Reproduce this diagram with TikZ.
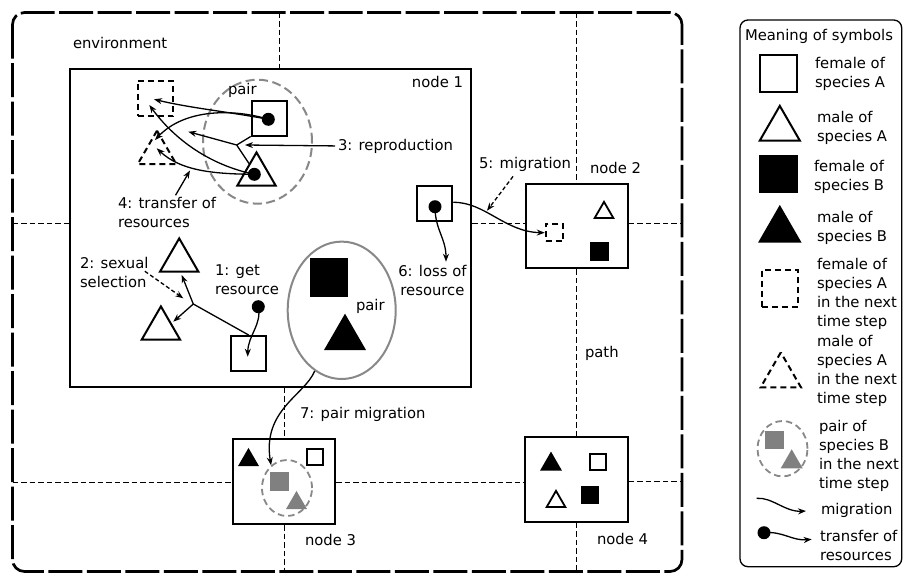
\documentclass[tikz,border=0pt]{standalone}
\usepackage{fontspec}
\setmainfont{DejaVu Sans}
\usetikzlibrary{shapes.geometric,arrows.meta,calc}
\definecolor{pgrey}{RGB}{128,128,128}
\definecolor{egrey}{RGB}{136,136,136}
\begin{document}
\begin{tikzpicture}[x=1pt,y=-1pt,
  txt/.style={font=\fontsize{14.8}{19}\selectfont, inner sep=0pt, outer sep=0pt, align=left},
  txtc/.style={txt, align=center},
  frame/.style={line width=2.7pt, dash pattern=on 34pt off 4.5pt, rounded corners=12pt},
  grid/.style={line width=1.2pt, dash pattern=on 5.5pt off 3pt},
  nodebox/.style={rectangle, draw, line width=2.2pt, fill=white, inner sep=0pt},
  sq/.style={rectangle, draw, line width=2pt, fill=white, inner sep=0pt, minimum size=#1},
  fsq/.style={rectangle, fill=black, inner sep=0pt, minimum size=#1},
  dsq/.style={rectangle, draw, line width=2pt, dash pattern=on 6pt off 4pt, inner sep=0pt, minimum size=#1},
  gsq/.style={rectangle, fill=pgrey, inner sep=0pt, minimum size=#1},
  tri/.style={regular polygon, regular polygon sides=3, draw, line width=2pt, fill=white, inner sep=0pt, minimum size=#1},
  ftri/.style={regular polygon, regular polygon sides=3, fill=black, inner sep=0pt, minimum size=#1},
  dtri/.style={regular polygon, regular polygon sides=3, draw, line width=2pt, dash pattern=on 6pt off 4pt, inner sep=0pt, minimum size=#1},
  gtri/.style={regular polygon, regular polygon sides=3, fill=pgrey, inner sep=0pt, minimum size=#1},
  dotn/.style={circle, fill=black, inner sep=0pt, minimum size=13pt},
  gell/.style={ellipse, draw=egrey, line width=2pt, dash pattern=on 9pt off 4.5pt, inner sep=0pt},
  sgell/.style={ellipse, draw=egrey, line width=1.8pt, dash pattern=on 6.5pt off 4pt, inner sep=0pt},
  conn/.style={line width=1.3pt},
  arrow/.style={conn, -{Stealth[length=8pt,width=6pt]}},
  darrow/.style={arrow, dash pattern=on 4pt off 2.5pt}
]
\useasboundingbox (0,0) rectangle (904,574);

% outer environment frame
\draw[frame] (12.5,12.5) rectangle (682,571.5);

% grid coordinates on the frame
\coordinate (gA) at (279.3,12.5);
\coordinate (gB) at (284.3,571.5);
\coordinate (gC) at (576.7,12.5);
\coordinate (gD) at (576.7,571.5);
\coordinate (gE) at (12.5,223.5);
\coordinate (gF) at (682,223.5);
\coordinate (gG) at (12.5,482.5);
\coordinate (gH) at (682,481.5);

% places (nodes)
\node[nodebox, minimum width=401pt, minimum height=317.4pt] (n1) at (270.5,228) {};
\node[nodebox, minimum width=102pt, minimum height=84pt] (n2) at (576.7,226.3) {};
\node[nodebox, minimum width=102.3pt, minimum height=84.7pt] (n3) at (283.9,481.7) {};
\node[nodebox, minimum width=102.7pt, minimum height=85pt] (n4) at (576.4,479.2) {};

% paths (dashed)
\draw[grid] (gA) -- (gA |- n1.north);
\draw[grid] (gB |- n1.south) -- (gB |- n3.north);
\draw[grid] (gB |- n3.south) -- (gB);
\draw[grid] (gC) -- (gC |- n2.north);
\draw[grid] (gC |- n2.south) -- (gC |- n4.north);
\draw[grid] (gC |- n4.south) -- (gD);
\draw[grid] (gE) -- (gE -| n1.west);
\draw[grid] (gE -| n1.east) -- (gE -| n2.west);
\draw[grid] (gF -| n2.east) -- (gF);
\draw[grid] (gG) -- (gG -| n3.west);
\draw[grid] (gG -| n3.east) -- (gG -| n4.west);
\draw[grid] (gH -| n4.east) -- (gH);

% ---------- node 1 content
\node[gell, minimum width=109pt, minimum height=124pt] (e1) at (257.5,141.7) {};
\node[dsq=35.5pt] (s0) at (155.3,98.7) {};
\node[dtri=44.4pt] (t0) at (157,152.9) {};
\node[sq=35pt] (sq1) at (269.2,118) {};
\node[tri=44.4pt] (tr1) at (256.5,174.6) {};

\node[tri=44.4pt] (ta) at (179.2,260.6) {};
\node[tri=44.4pt] (tb) at (160.9,328.6) {};
\node[sq=35.3pt] (sq2) at (248.7,353.7) {};

\node[ellipse, draw=egrey, line width=2pt, inner sep=0pt, minimum width=108pt, minimum height=137.4pt] (e2) at (341.7,310.3) {};
\node[fsq=38.3pt] (fs1) at (329.2,277.5) {};
\node[ftri=48.5pt] (ft1) at (345,337.9) {};

\node[sq=35.5pt] (sq3) at (434.5,203.7) {};

% ---------- node 2 content
\node[dsq=17.5pt] (n2a) at (554.5,232.7) {};
\node[tri=21.5pt, line width=1.8pt] (n2b) at (604,212.6) {};
\node[fsq=18.7pt] (n2c) at (599.3,251.3) {};

% ---------- node 3 content
\node[ftri=24.2pt] (n3a) at (248.5,460) {};
\node[sq=16.5pt, line width=1.8pt] (n3b) at (315,457) {};
\node[sgell, minimum width=50pt, minimum height=56pt] (e3) at (287,488) {};
\node[gsq=19pt] (n3c) at (279.5,481.2) {};
\node[gtri=24.2pt] (n3d) at (296.5,503) {};

% ---------- node 4 content
\node[ftri=25.4pt] (n4a) at (551,464.3) {};
\node[sq=16.5pt, line width=1.8pt] (n4b) at (598,462) {};
\node[tri=21.5pt, line width=1.8pt] (n4c) at (556,501.6) {};
\node[fsq=18.5pt] (n4d) at (590,495) {};

% ---------- texts (multi-line texts are placed by the baseline of their last line)
\node[txt, anchor=base west] (tenv) at (73,48) {environment};
\node[txt, anchor=base east] (tn1) at (463,87.3) {node 1};
\node[txt, anchor=base west] (tpair1) at (228,94.3) {pair};
\node[txt, anchor=base west] (t3) at (338,150) {3: reproduction};
\node[txt, anchor=base west] (t4) at (118,227.5) {4: transfer of\\resources};
\node[txt, anchor=base west] (t5) at (479,168.3) {5: migration};
\node[txt, anchor=base west] (tn2) at (590,173) {node 2};
\node[txtc, anchor=base west] (t6) at (398.3,295.3) {6: loss of\\resource};
\node[txt, anchor=base west] (t2) at (80,287) {2: sexual\\selection};
\node[txt, anchor=base west] (t1) at (215,294) {1: get\\resource};
\node[txt, anchor=base west] (tpair2) at (356,310) {pair};
\node[txt, anchor=base west] (tpath) at (585,357) {path};
\node[txt, anchor=base west] (t7) at (300,418) {7: pair migration};
\node[txt, anchor=base west] (tn3) at (305,545) {node 3};
\node[txt, anchor=base west] (tn4) at (597,544) {node 4};

% ---------- connectors
% 3: reproduction
\coordinate (j1) at (236.7,145);
\coordinate (repend) at (188.3,131.7);
\draw[conn] (sq1.south west) -- (j1);
\draw[conn] (tr1.124) -- (j1);
\draw[arrow] (j1) -- (repend);
\draw[arrow] ([xshift=-3pt]t3.west) -- ($(j1)+(8.3,0)$);

% 4: transfer of resources
\coordinate (ca) at (154,99.3);
\coordinate (cb) at (155,140);
\coordinate (cc) at (149.3,105);
\coordinate (cd) at (156.7,148.3);
\draw[arrow] (sq1.center) ++(-0.9,1.3) .. controls (230,112) and (190,108) .. (ca);
\draw[arrow] (sq1.center) ++(-0.9,1.3) .. controls (235,109) and (185,108) .. (cb);
\draw[arrow] (tr1.center) ++(-2.2,-0.3) .. controls (210,165) and (175,140) .. (cc);
\draw[arrow] (tr1.center) ++(-2.2,-0.3) .. controls (210,174) and (180,170) .. (cd);
\coordinate (c4) at (190,170.5);
\draw[arrow] ($(t4.north)+(8.5,-2)$) -- (c4);

% 2: sexual selection
\coordinate (j2) at (193.3,304);
\coordinate (tatip) at (181.7,275);
\coordinate (tbtip) at (173.3,321.7);
\coordinate (j2b) at (183.3,298.3);
\draw[conn] (sq2.north) -- (j2);
\draw[arrow] (j2) -- (tatip);
\draw[arrow] (j2) -- (tbtip);
\draw[darrow] ($(t2.north east)+(-3.7,14.5)$) -- (j2b);

% 1: get resource
\node[dotn] (d3) at (258.3,306.7) {};
\coordinate (grtip) at (247.7,356.7);
\draw[arrow] (d3.center) .. controls (262,325) and (248,335) .. (grtip);

% 5: migration
\coordinate (migpt) at (487,210.7);
\draw[arrow] (sq3.east) ++(0,-1.4) .. controls (485,202) and (505,232) .. (n2a.west);
\draw[darrow] ($(t5.south)+(-12,5)$) -- (migpt);

% 6: loss of resource
\coordinate (losstip) at (446,261.7);
\draw[arrow] (sq3.center) ++(0.5,3) .. controls (435,230) and (446,238) .. (losstip);

% 7: pair migration
\draw[arrow] (e2.246) .. controls (305,395) and (262,410) .. (e3.125);

% dots (resources)
\node[dotn] (d1) at (268.3,119.3) {};
\node[dotn] (d2) at (254.3,174.3) {};
\node[dotn] (d4) at (435,206.7) {};

% ---------- legend
\draw[line width=1.3pt, rounded corners=8pt] (740,20) rectangle (901.7,566.7);
\node[txt, anchor=base west] (lt0) at (745,40) {Meaning of symbols};
\node[sq=37pt] (lsq) at (778.8,73.8) {};
\node[txt, anchor=base west] (lt1) at (815,87.7) {female of\\species A};
\node[tri=46.4pt] (ltri) at (779.8,129.1) {};
\node[txt, anchor=base west] (lt2) at (817,141) {male of\\species A};
\node[fsq=38.5pt] (lfsq) at (778.5,174.2) {};
\node[txt, anchor=base west] (lt3) at (814,190.7) {female of\\species B};
\node[ftri=50.4pt] (lftri) at (779.8,230.1) {};
\node[txt, anchor=base west] (lt4) at (817,241.7) {male of\\species B};
\node[dsq=36.5pt] (ldsq) at (779.8,288.3) {};
\node[txt, anchor=base west] (lt5) at (817,326.7) {female of\\species A\\in the next\\time step};
\node[dtri=46.6pt] (ldtri) at (780.8,375.7) {};
\node[txt, anchor=base west] (lt6) at (817,403.4) {male of\\species A\\in the next\\time step};
\node[sgell, minimum width=50pt, minimum height=55.4pt] (lell) at (782.5,448.7) {};
\node[gsq=18.5pt] (lgsq) at (774.5,440.2) {};
\node[gtri=25.4pt] (lgtri) at (791.7,462) {};
\node[txt, anchor=base west] (lt7) at (819,488.3) {pair of\\species B\\in the next\\time step};
\coordinate (lm1) at (756.7,498.3);
\coordinate (lm2) at (806,511);
\draw[arrow] (lm1) .. controls (772,497) and (785,512) .. (lm2);
\node[txt, anchor=base west] (lt8) at (821,514.5) {migration};
\node[dotn] (ldot) at (764,532.7) {};
\coordinate (lr2) at (811.7,539.3);
\draw[arrow] (ldot.center) .. controls (783,531) and (792,541) .. (lr2);
\node[txt, anchor=base west] (lt9) at (820,560) {transfer of\\resources};
\end{tikzpicture}
\end{document}
